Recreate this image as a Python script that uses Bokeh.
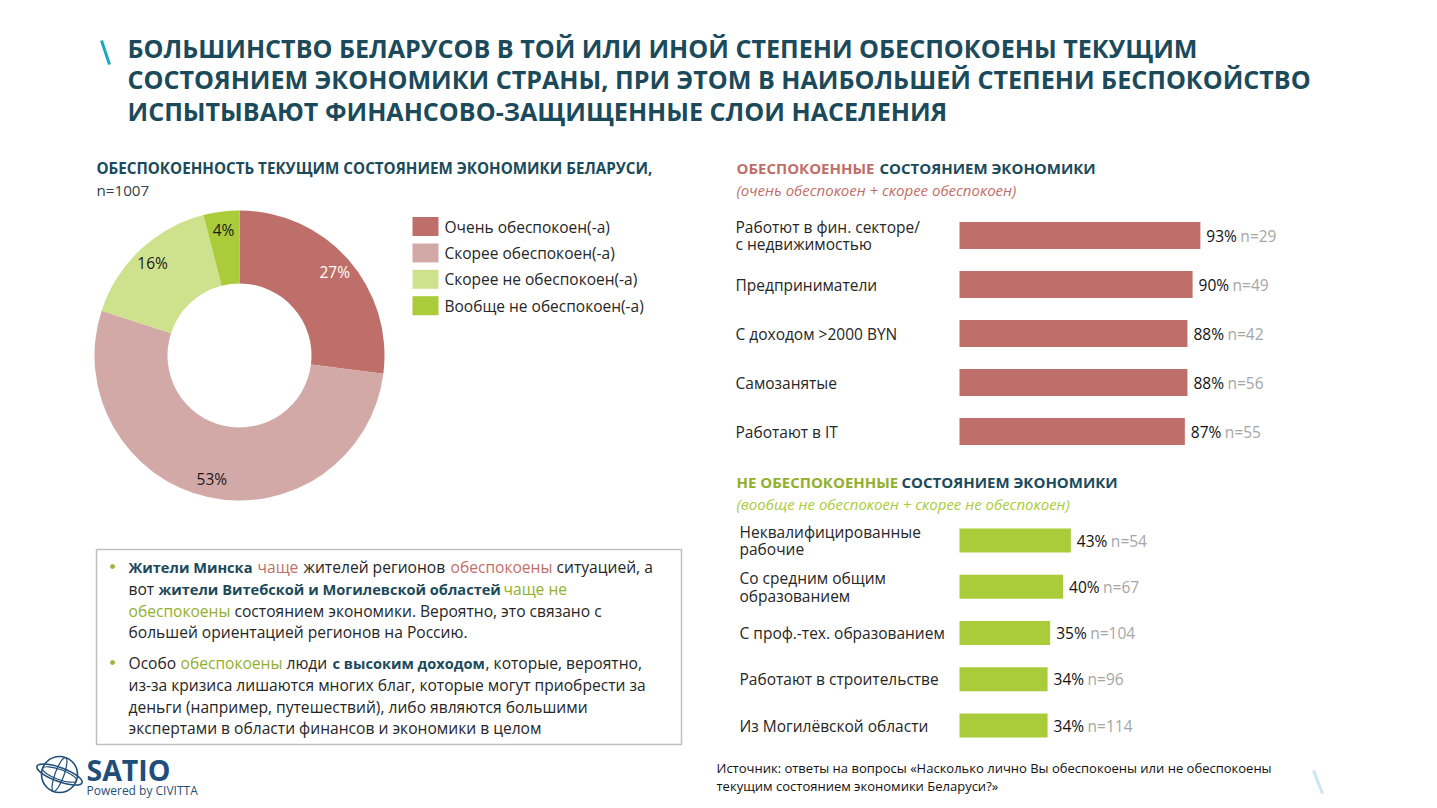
import math
from bokeh.plotting import figure
from bokeh.models import Range1d
from bokeh.core.properties import value
from bokeh.embed import file_html
from bokeh.resources import INLINE

FONT = "Open Sans"

# ---------------- data ----------------
title_lines = [
    "БОЛЬШИНСТВО БЕЛАРУСОВ В ТОЙ ИЛИ ИНОЙ СТЕПЕНИ ОБЕСПОКОЕНЫ ТЕКУЩИМ",
    "СОСТОЯНИЕМ ЭКОНОМИКИ СТРАНЫ, ПРИ ЭТОМ В НАИБОЛЬШЕЙ СТЕПЕНИ БЕСПОКОЙСТВО",
    "ИСПЫТЫВАЮТ ФИНАНСОВО-ЗАЩИЩЕННЫЕ СЛОИ НАСЕЛЕНИЯ",
]

donut_labels = ["Очень обеспокоен(-а)", "Скорее обеспокоен(-а)",
                "Скорее не обеспокоен(-а)", "Вообще не обеспокоен(-а)"]
donut_values = [27, 53, 16, 4]
donut_colors = ["#BF6F69", "#D3A9A8", "#CEE18C", "#AACB3A"]
donut_text_colors = ["#FFFFFF", "#1A1A1A", "#1A1A1A", "#1A1A1A"]

worried_cats = ["Работют в фин. секторе/\nс недвижимостью", "Предприниматели",
                "С доходом >2000 BYN", "Самозанятые", "Работают в IT"]
worried_vals = [93, 90, 88, 88, 87]
worried_n = [29, 49, 42, 56, 55]

calm_cats = ["Неквалифицированные\nрабочие", "Со средним общим\nобразованием",
             "С проф.-тех. образованием", "Работают в строительстве",
             "Из Могилёвской области"]
calm_vals = [43, 40, 35, 34, 34]
calm_n = [54, 67, 104, 96, 114]

# ---------------- colours ----------------
DARK = "#1B4A5A"
RED = "#BF6F69"
GREEN = "#AACB3A"
OLIVE = "#93B02C"
TXT = "#262626"
GREY_N = "#A6A6A6"

W, H = 1421, 800
p = figure(width=W, height=H, x_range=Range1d(0, W), y_range=Range1d(H, 0),
           output_backend="svg", toolbar_location=None, min_border=0,
           x_axis_type=None, y_axis_type=None)
p.grid.visible = False
p.outline_line_color = None
p.background_fill_color = "white"

PX_PER_PCT = 2.59
BAR_X0 = 959
p.extra_x_ranges = {"pct": Range1d((0 - BAR_X0) / PX_PER_PCT, (W - BAR_X0) / PX_PER_PCT)}


def txt(x, y, s, size, color=TXT, style="normal", align="left", baseline="middle", **kw):
    p.text(x=[x], y=[y], text=[s], text_font=value(FONT), text_font_size=f"{size}px",
           text_color=color, text_font_style=style, text_align=align,
           text_baseline=baseline, **kw)


# ---------------- title ----------------
p.segment(x0=[101], y0=[40], x1=[109], y1=[64], line_color="#1BA6C2", line_width=3)
for i, line in enumerate(title_lines):
    txt(127, 47 + 31.5 * i, line, 25.1, color=DARK, style="bold")

# ---------------- donut ----------------
txt(96, 167, "ОБЕСПОКОЕННОСТЬ ТЕКУЩИМ СОСТОЯНИЕМ ЭКОНОМИКИ БЕЛАРУСИ,", 15.2, color=DARK, style="bold")
txt(96, 189, "n=1007", 15.2, color="#333F48")

CX, CY, R_OUT, R_IN = 239, 355, 145, 72
total = float(sum(donut_values))
starts, ends, mids = [], [], []
cum = 0.0
for v in donut_values:
    a0 = math.pi / 2 - 2 * math.pi * cum / total
    cum += v
    a1 = math.pi / 2 - 2 * math.pi * cum / total
    starts.append(a0)
    ends.append(a1)
    mids.append((a0 + a1) / 2)
p.annular_wedge(x=[CX] * 4, y=[CY] * 4, inner_radius=R_IN, outer_radius=R_OUT,
                start_angle=starts, end_angle=ends, direction="clock",
                fill_color=donut_colors, line_color=None)
LR = 127
p.text(x=[CX + LR * math.cos(m) for m in mids], y=[CY - LR * math.sin(m) for m in mids],
       text=[f"{v}%" for v in donut_values], text_font=value(FONT), text_font_size="15.5px",
       text_color=donut_text_colors, text_align="center", text_baseline="middle")

# legend
leg_y = [226 + 26.4 * i for i in range(len(donut_labels))]
p.rect(x=[425] * 4, y=leg_y, width=26, height=19, fill_color=donut_colors, line_color=None)
p.text(x=[444] * 4, y=leg_y, text=donut_labels, text_font=value(FONT), text_font_size="15.5px",
       text_color=TXT, text_align="left", text_baseline="middle")

# ---------------- right headers ----------------
txt(736, 167, "ОБЕСПОКОЕННЫЕ", 15, color=RED, style="bold")
txt(879, 167, "СОСТОЯНИЕМ ЭКОНОМИКИ", 15, color=DARK, style="bold")
txt(736, 189, "(очень обеспокоен + скорее обеспокоен)", 15, color=RED, style="italic")

txt(736, 481, "НЕ ОБЕСПОКОЕННЫЕ", 15, color=OLIVE, style="bold")
txt(901, 481, "СОСТОЯНИЕМ ЭКОНОМИКИ", 15, color=DARK, style="bold")
txt(736, 503, "(вообще не обеспокоен + скорее не обеспокоен)", 15, color=GREEN, style="italic")


def bar_block(cats, vals, ns, y0, step, bar_h, color, label_x):
    ys = [y0 + step * i for i in range(len(vals))]
    p.hbar(y=ys, left=0, right=vals, height=bar_h, fill_color=color, line_color=None,
           x_range_name="pct")
    p.text(x=vals, y=ys, text=[f"{v}%" for v in vals], x_offset=6, x_range_name="pct",
           text_font=value(FONT), text_font_size="15.5px", text_color="#111111",
           text_baseline="middle")
    p.text(x=vals, y=ys, text=[f"n={n}" for n in ns], x_offset=40, x_range_name="pct",
           text_font=value(FONT), text_font_size="15.5px", text_color=GREY_N,
           text_baseline="middle")
    p.text(x=[label_x] * len(cats), y=ys, text=cats, text_font=value(FONT),
           text_font_size="15.5px", text_color=TXT, text_baseline="middle",
           text_line_height=0.8)


bar_block(worried_cats, worried_vals, worried_n, 235, 49, 27, RED, 735)
bar_block(calm_cats, calm_vals, calm_n, 540, 46.25, 24, GREEN, 739)

# ---------------- text box ----------------
p.quad(left=[96], right=[681], top=[549], bottom=[744], fill_color=None,
       line_color="#BFBFBF", line_width=1.5)
p.scatter(x=[112, 112], y=[566, 662], size=4, color="#9BBB3B")

NS, BS = 15.6, 14.6
para = [
    (566, [(128, "Жители Минска", DARK, "bold"), (257, "чаще", RED, "normal"),
           (303, "жителей регионов", TXT, "normal"), (450, "обеспокоены", RED, "normal"),
           (556, "ситуацией, а", TXT, "normal")]),
    (588, [(128, "вот", TXT, "normal"),
           (158, "жители Витебской и Могилевской областей", DARK, "bold"),
           (503, "чаще не", OLIVE, "normal")]),
    (610, [(128, "обеспокоены", OLIVE, "normal"),
           (234, "состоянием экономики. Вероятно, это связано с", TXT, "normal")]),
    (631, [(128, "большей ориентацией регионов на Россию.", TXT, "normal")]),
    (662, [(128, "Особо", TXT, "normal"), (180, "обеспокоены", OLIVE, "normal"),
           (286, "люди", TXT, "normal"), (332, "с высоким доходом", DARK, "bold"),
           (485, ", которые, вероятно,", TXT, "normal")]),
    (684, [(128, "из-за кризиса лишаются многих благ, которые могут приобрести за", TXT, "normal")]),
    (706, [(128, "деньги (например, путешествий), либо являются большими", TXT, "normal")]),
    (727, [(128, "экспертами в области финансов и экономики в целом", TXT, "normal")]),
]
for y, segs in para:
    for x, s, c, st in segs:
        txt(x, y, s, BS if st == "bold" else NS, color=c, style=st)

# ---------------- logo ----------------
LOGO = "#1F4E79"
p.circle(x=[59], y=[774], radius=18, fill_color=None, line_color=LOGO, line_width=1.6)
p.ellipse(x=[59], y=[774], width=9, height=36, angle=-0.35, fill_color=None,
          line_color=LOGO, line_width=1.2)
p.ellipse(x=[59], y=[774], width=36, height=10, angle=-0.35, fill_color=None,
          line_color=LOGO, line_width=1.2)
p.ellipse(x=[59], y=[774], width=48, height=14, angle=-0.35, fill_color=None,
          line_color=LOGO, line_width=1.6)
txt(86, 769, "SATIO", 28.5, color=LOGO, style="bold")
txt(86, 790, "Powered by CIVITTA", 12, color=LOGO)

# ---------------- footer ----------------
txt(716, 767, "Источник: ответы на вопросы «Насколько лично Вы обеспокоены или не обеспокоены", 13,
    color="#111111")
txt(716, 785, "текущим состоянием экономики Беларуси?»", 13, color="#111111")
p.segment(x0=[1313], y0=[770], x1=[1322], y1=[793], line_color="#C9E7F1", line_width=3)

open("out.html", "w").write(file_html(p, INLINE))
